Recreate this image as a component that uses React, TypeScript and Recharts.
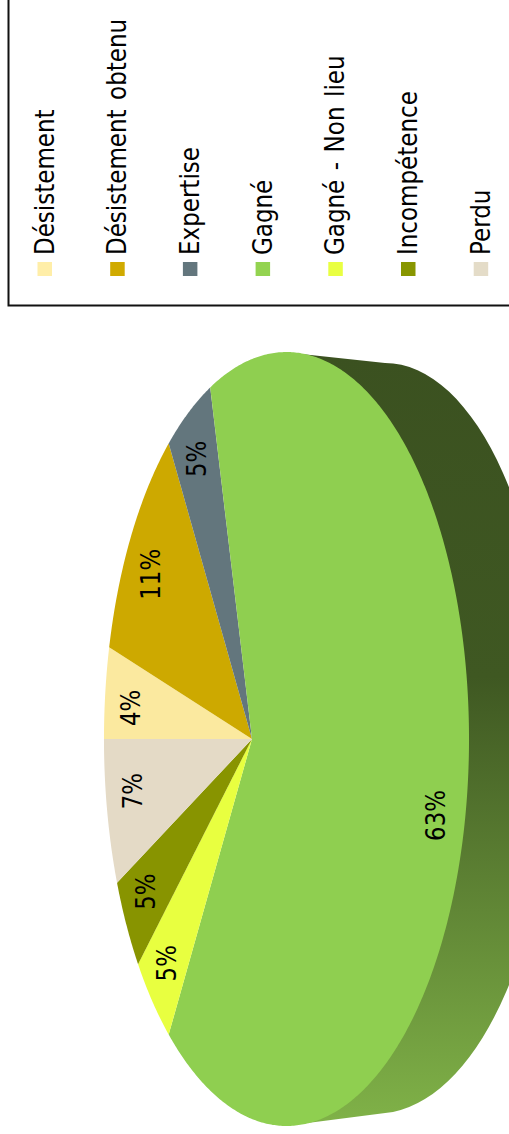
import React from 'react';
import { PieChart, Pie, Legend } from 'recharts';

const categories = ['Désistement', 'Désistement obtenu', 'Expertise', 'Gagné', 'Gagné - Non lieu', 'Incompétence', 'Perdu'];
const shares = [4.6, 11.7, 4.7, 62.7, 4.5, 4.5, 7.3];
const percentLabels = ['4%', '11%', '5%', '63%', '5%', '5%', '7%'];
const colors = ['#FBE99F', '#CDA900', '#63767D', '#8FCF50', '#E8FF40', '#889400', '#E4DAC6'];
const swatchColors = ['#FFEEA8', '#D0AA00', '#63767D', '#93D350', '#E9FF42', '#889600', '#E4DCC8'];

const rows = categories.map((name, i) => ({ name, value: shares[i], fill: colors[i], swatch: swatchColors[i] }));

const FONT = '"DejaVu Sans", sans-serif';
const W = 509;
const H = 1134;
// projective mapping of the unit circle on to the tilted pie
const APEX_X = 252;
const APEX_Y = 739;
const BX = 176;
const CY = 380;
const K = -0.189;
const RAD = Math.PI / 180;

function project(deg: number, r = 1) {
  const px = Math.cos(deg * RAD) * r;
  const py = -Math.sin(deg * RAD) * r;
  const d = 1 + K * px;
  return { x: APEX_X + (BX * px) / d, y: APEX_Y + (CY * py) / d };
}

function SliceShape(props: any) {
  const { startAngle, endAngle, fill, index, payload } = props;
  const pts: string[] = [`M${APEX_X},${APEX_Y}`];
  const n = Math.max(2, Math.ceil(Math.abs(endAngle - startAngle) * 2));
  for (let i = 0; i <= n; i++) {
    const p = project(startAngle + ((endAngle - startAngle) * i) / n);
    pts.push(`L${p.x.toFixed(2)},${p.y.toFixed(2)}`);
  }
  pts.push('Z');
  const hasSide = (payload?.name ?? props.name) === 'Gagné';
  return (
    <g>
      {hasSide && (
        <>
          <defs>
            <linearGradient id="side" x1="0" y1="0" x2="0" y2="1">
              <stop offset="0" stopColor="#3B5120" />
              <stop offset="0.42" stopColor="#3F5822" />
              <stop offset="1" stopColor="#80B248" />
            </linearGradient>
          </defs>
          <path
            d={`M${APEX_X + 40},${APEX_Y - 386} L${APEX_X + 133},${APEX_Y - 376} A167 376 0 0 1 ${APEX_X + 300},${APEX_Y} A176 373 0 0 1 ${APEX_X + 141},${APEX_Y + 373} L${APEX_X + 40},${APEX_Y + 386} Z`}
            fill="url(#side)"
          />
        </>
      )}
      <path d={pts.join(' ')} fill={fill} stroke="none" data-i={index} />
    </g>
  );
}

const labelRadius = [0.8, 0.8, 0.85, 0.9, 0.8, 0.8, 0.8];
const labelNudge = [[0, 7], [-1, 1], [0, 0], [-4, 16], [-3, 10], [-3, 0], [0, -8]];

function SliceLabel(props: any) {
  const { midAngle, index } = props;
  const p = project(midAngle, labelRadius[index]);
  const [dx, dy] = labelNudge[index];
  return (
    <text
      transform={`translate(${p.x + dx},${p.y + dy}) rotate(-90) scale(0.88,1)`}
      textAnchor="middle"
      dominantBaseline="central"
      fontFamily={FONT}
      fontSize={26}
      fill="#000"
    >
      {percentLabels[index]}
    </text>
  );
}

function LegendBox({ payload }: any) {
  const items = payload ?? [];
  return (
    <svg width={W} height={308} style={{ display: 'block' }}>
      <rect x={8.5} y={-10} width={W + 10} height={315.5} fill="#fff" stroke="#111" strokeWidth={2} />
      {items.map((it: any, i: number) => {
        const cx = 44.5 + 72.7 * i;
        return (
          <g key={it.value}>
            <rect x={cx - 7} y={262} width={14.5} height={14} fill={rows[i].swatch} />
            <text
              transform={`translate(${cx + 9},255) rotate(-90) scale(0.885,1)`}
              fontFamily={FONT}
              fontSize={26}
              wordSpacing={2.5}
              fill="#000"
            >
              {it.value}
            </text>
          </g>
        );
      })}
    </svg>
  );
}

export default function App() {
  return (
    <div style={{ position: 'absolute', left: 0, top: 0, width: W, height: H, overflow: 'hidden', background: '#fff' }}>
      <PieChart width={W} height={H} margin={{ top: 0, right: 0, bottom: 0, left: 0 }}>
        <Pie
          data={rows}
          dataKey="value"
          nameKey="name"
          cx={APEX_X}
          cy={APEX_Y}
          outerRadius={180}
          startAngle={180}
          endAngle={-180}
          paddingAngle={0}
          stroke="none"
          legendType="square"
          isAnimationActive={false}
          shape={SliceShape}
          label={SliceLabel}
          labelLine={false}
        />
        <Legend
          content={LegendBox}
          wrapperStyle={{ position: 'absolute', left: 0, top: 0, bottom: 'auto', width: W, height: 308 }}
        />
      </PieChart>
    </div>
  );
}
